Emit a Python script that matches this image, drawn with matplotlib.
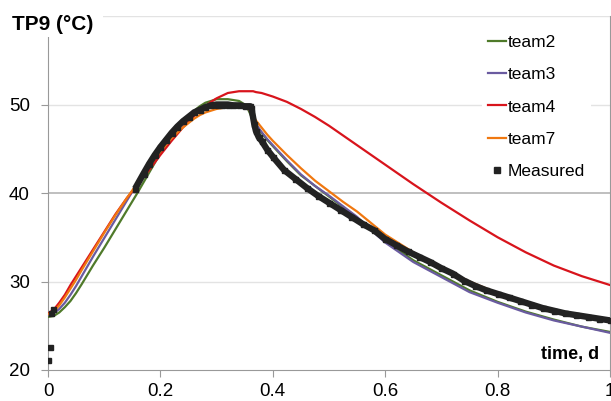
import matplotlib
matplotlib.use("Agg")
import matplotlib.pyplot as plt
from matplotlib.lines import Line2D
from matplotlib.patches import Rectangle

plt.rcParams['font.family'] = ['Liberation Sans', 'DejaVu Sans']

# model time grid (d)
t_model = [0, 0.01, 0.02, 0.03, 0.04, 0.05, 0.06, 0.08, 0.10, 0.12, 0.14, 0.16,
           0.18, 0.20, 0.22, 0.24, 0.26, 0.27, 0.28, 0.29, 0.30, 0.31, 0.32,
           0.33, 0.34, 0.35, 0.355, 0.36, 0.365, 0.37, 0.38, 0.39, 0.40, 0.425,
           0.45, 0.475, 0.50, 0.525, 0.55, 0.575, 0.60, 0.65, 0.70, 0.75, 0.80,
           0.85, 0.90, 0.95, 1.00]

team2 = [26.0, 26.1, 26.5, 27.1, 27.8, 28.7, 29.7, 31.8, 33.8, 35.9, 38.0, 40.1,
         42.3, 44.5, 46.5, 48.1, 49.3, 49.8, 50.2, 50.4, 50.6, 50.6, 50.6,
         50.5, 50.4, 50.0, 49.6, 48.9, 48.2, 47.6, 46.8, 46.0, 45.3, 43.6,
         42.0, 40.8, 39.6, 38.4, 37.2, 35.9, 34.6, 32.4, 30.7, 29.0, 27.7,
         26.6, 25.7, 24.9, 24.3]
team3 = [26.2, 26.4, 26.9, 27.6, 28.5, 29.5, 30.6, 32.8, 34.9, 37.0, 39.1, 41.2,
         43.3, 45.1, 46.7, 48.0, 49.0, 49.4, 49.7, 49.9, 50.0, 50.1, 50.1,
         50.1, 50.0, 49.9, 49.7, 49.2, 48.4, 47.8, 46.9, 46.1, 45.4, 43.7,
         42.1, 40.8, 39.7, 38.5, 37.3, 35.8, 34.4, 32.2, 30.5, 28.8, 27.6,
         26.5, 25.6, 24.9, 24.2]
team4 = [26.4, 26.8, 27.6, 28.5, 29.6, 30.6, 31.6, 33.6, 35.6, 37.6, 39.4, 41.0,
         42.6, 44.3, 45.9, 47.4, 48.7, 49.3, 49.8, 50.3, 50.7, 51.0, 51.3,
         51.4, 51.5, 51.5, 51.5, 51.5, 51.5, 51.4, 51.3, 51.1, 50.9, 50.3,
         49.5, 48.6, 47.6, 46.5, 45.4, 44.3, 43.2, 41.0, 38.9, 36.9, 35.0,
         33.3, 31.8, 30.6, 29.6]
team7 = [26.3, 26.6, 27.3, 28.2, 29.2, 30.2, 31.3, 33.4, 35.5, 37.5, 39.4, 41.2,
         43.0, 44.7, 46.2, 47.4, 48.4, 48.8, 49.1, 49.3, 49.5, 49.6, 49.7,
         49.7, 49.7, 49.7, 49.6, 49.3, 48.7, 48.2, 47.4, 46.6, 45.9, 44.3,
         42.8, 41.4, 40.2, 39.0, 37.9, 36.6, 35.3, 33.3, 31.6, 30.0, 28.7,
         27.7, 26.8, 26.1, 25.5]

# measured TP9 (first four are isolated early readings)
t_meas = [0.0005, 0.003, 0.006, 0.0095,
          0.155, 0.17, 0.18, 0.19, 0.20, 0.21, 0.22, 0.23, 0.24, 0.25, 0.26, 0.27,
          0.28, 0.29, 0.30, 0.31, 0.32, 0.33, 0.34, 0.35, 0.36, 0.362, 0.367,
          0.37, 0.375, 0.38, 0.39, 0.40, 0.42, 0.44, 0.46, 0.48, 0.50, 0.52,
          0.54, 0.56, 0.58, 0.60, 0.62, 0.64, 0.66, 0.68, 0.70, 0.72, 0.74,
          0.76, 0.78, 0.80, 0.82, 0.84, 0.86, 0.88, 0.90, 0.92, 0.94, 0.96,
          0.98, 1.00]
T_meas = [21.1, 22.6, 26.4, 26.9,
          40.5, 42.2, 43.3, 44.3, 45.2, 46.0, 46.8, 47.5, 48.1, 48.6, 49.1, 49.4,
          49.7, 49.9, 50.0, 50.0, 50.0, 49.9, 49.9, 49.8, 49.8, 49.6, 47.8,
          47.0, 46.3, 45.9, 44.9, 44.1, 42.6, 41.6, 40.6, 39.7, 38.9, 38.1,
          37.3, 36.5, 35.8, 34.8, 34.1, 33.4, 32.8, 32.2, 31.5, 30.9, 30.1,
          29.5, 29.0, 28.6, 28.2, 27.8, 27.4, 27.0, 26.7, 26.4, 26.2, 26.0,
          25.8, 25.6]

series = [("team2", team2, "#4f7a2a"), ("team3", team3, "#6a5ba0"),
          ("team4", team4, "#d8141c"), ("team7", team7, "#f07810")]

fig = plt.figure(figsize=(6.11, 4.01), dpi=100)
ax = fig.add_axes([48 / 611, 1 - 370 / 401, 562 / 611, 354 / 401])

for name, vals, col in series:
    ax.plot(t_model, vals, color=col, lw=1.6, label=name, zorder=3)

ax.plot(t_meas[4:], T_meas[4:], color="#222222", lw=4.6, solid_capstyle="butt", zorder=4)
ax.plot(t_meas, T_meas, linestyle="none", marker="s", markersize=3.6, color="#222222", zorder=4)

ax.set_xlim(0, 1)
ax.set_ylim(20, 60)
ax.set_xticks([0, 0.2, 0.4, 0.6, 0.8, 1.0])
ax.set_xticklabels(["0", "0.2", "0.4", "0.6", "0.8", "1"])
ax.set_yticks([20, 30, 40, 50, 60])
ax.set_yticklabels(["20", "30", "40", "50", ""])
ax.tick_params(axis="both", labelsize=13.5, color="#999999", length=5)
ax.tick_params(axis="x", pad=4)
ax.tick_params(axis="y", pad=8)

for y in [30, 50, 60]:
    ax.axhline(y, color="#e3e3e3", lw=1, zorder=1)
ax.axhline(40, color="#b4b4b4", lw=1.2, zorder=1)

for s in ["left", "bottom", "right"]:
    ax.spines[s].set_color("#999999")
ax.spines["top"].set_visible(False)

ax.text(0.981, 0.045, "time, d", transform=ax.transAxes, ha="right", va="center",
        fontsize=13, fontweight="bold")

handles = [Line2D([], [], color=c, lw=1.6) for _, _, c in series]
handles.append(Line2D([], [], color="#222222", marker="s", markersize=4, linestyle="none"))
labels = [n for n, _, _ in series] + ["Measured"]
leg = ax.legend(handles, labels, loc="upper left", bbox_to_anchor=(482 / 611, 1 - 29 / 401),
                bbox_transform=fig.transFigure, fontsize=12.5, frameon=True,
                facecolor="white", edgecolor="none", framealpha=1, fancybox=False,
                borderpad=0.35, borderaxespad=0, handlelength=1.05, handletextpad=0.08,
                labelspacing=0.98)
leg.set_zorder(6)

# white box behind the axis title, hiding the top of the y axis
fig.add_artist(Rectangle((4 / 611, 1 - 37 / 401), 99 / 611, 33 / 401,
                         transform=fig.transFigure, facecolor="white",
                         edgecolor="none", zorder=10))
fig.text(12 / 611, 1 - 24 / 401, "TP9 (°C)", fontsize=15, fontweight="bold",
         ha="left", va="center", zorder=11)

fig.savefig("out.png", dpi=100)
